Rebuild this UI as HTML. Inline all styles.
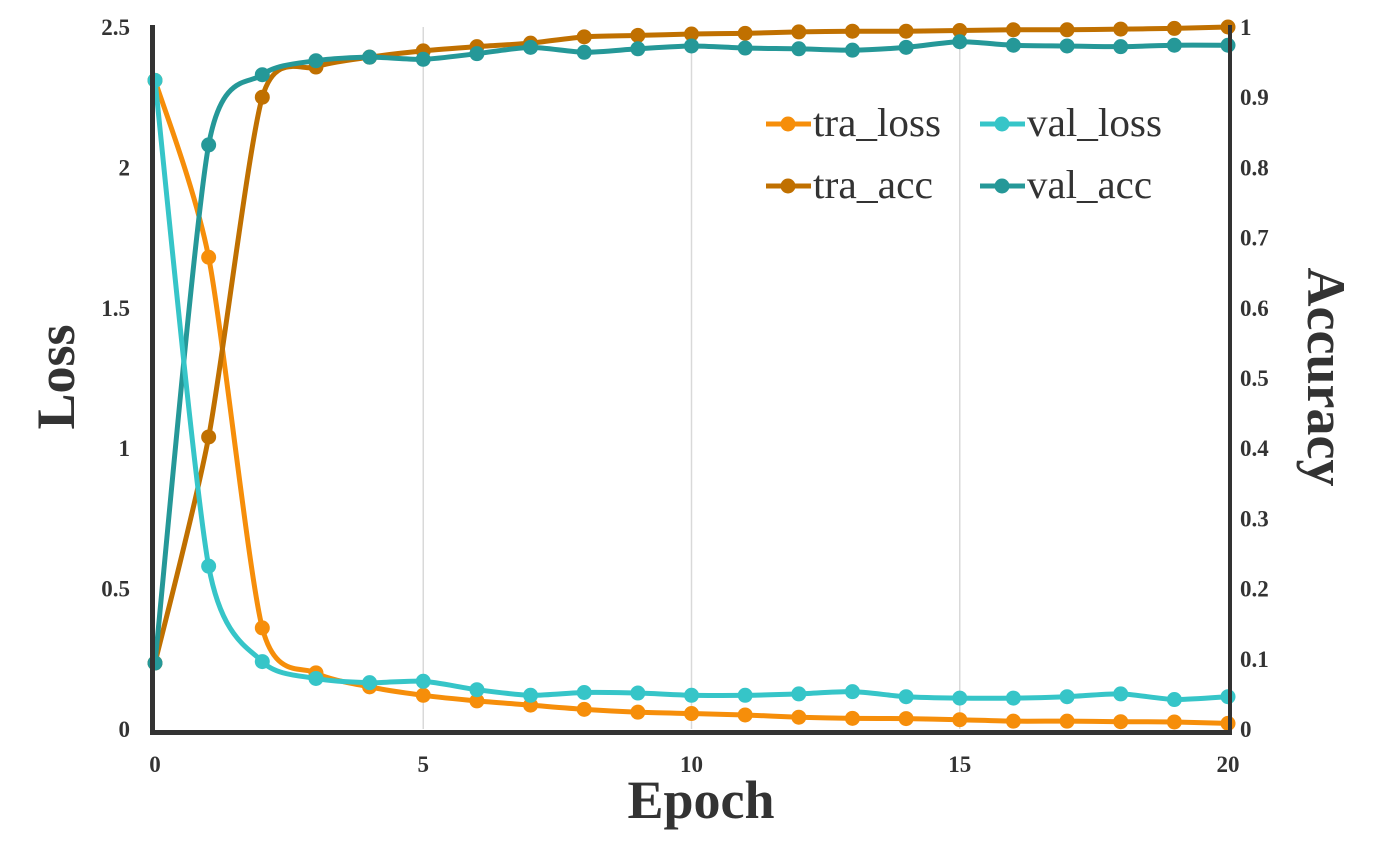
<!DOCTYPE html>
<html><head><meta charset="utf-8"><style>
body{margin:0;background:#fff;}
svg{display:block;font-family:"Liberation Serif",serif;font-weight:bold;}
</style></head><body>
<svg id="chart" width="1392" height="867">
<g id="grid"></g><g id="series"></g><g id="axes"></g>
</svg>
<script>
const epochs=[0,1,2,3,4,5,6,7,8,9,10,11,12,13,14,15,16,17,18,19,20];
const traLoss=[2.31,1.68,0.36,0.20,0.15,0.12,0.10,0.085,0.07,0.06,0.055,0.05,0.042,0.038,0.037,0.033,0.028,0.028,0.026,0.025,0.02];
const valLoss=[2.31,0.58,0.24,0.18,0.165,0.17,0.14,0.12,0.13,0.128,0.12,0.12,0.125,0.133,0.115,0.11,0.11,0.115,0.125,0.105,0.115];
const traAcc=[0.094,0.416,0.900,0.943,0.957,0.966,0.972,0.977,0.986,0.988,0.990,0.991,0.993,0.994,0.994,0.995,0.996,0.996,0.997,0.998,1.0];
const valAcc=[0.094,0.832,0.932,0.952,0.957,0.954,0.962,0.971,0.964,0.969,0.973,0.970,0.969,0.967,0.971,0.979,0.974,0.973,0.972,0.974,0.974];
const lossTicks=["0","0.5","1","1.5","2","2.5"];
const accTicks=["0","0.1","0.2","0.3","0.4","0.5","0.6","0.7","0.8","0.9","1"];
const xTicks=[0,5,10,15,20];
const X0=155,X1=1228,Y0=729,Y1=27;
const x=v=>X0+(X1-X0)*v/20;
const yL=v=>Y0-(Y0-Y1)*v/2.5;
const yA=v=>Y0-(Y0-Y1)*v;
const NS="http://www.w3.org/2000/svg";
function mk(t,a,p,txt){const e=document.createElementNS(NS,t);for(const k in a)e.setAttribute(k,a[k]);if(txt!==undefined)e.textContent=txt;p.appendChild(e);return e;}
const grid=document.getElementById('grid'),ser=document.getElementById('series'),ax=document.getElementById('axes');
xTicks.forEach(t=>{if(t>0&&t<20){const l=mk('line',{x1:x(t),x2:x(t),y1:Y1,y2:Y0,stroke:'#d9d9d9','stroke-width':1.5},grid);

}});
function path(pts){const k=8;let d=`M${pts[0][0]},${pts[0][1]}`;for(let i=0;i<pts.length-1;i++){const p0=pts[Math.max(i-1,0)],p1=pts[i],p2=pts[i+1],p3=pts[Math.min(i+2,pts.length-1)];
const c1=[p1[0]+(p2[0]-p0[0])/k,p1[1]+(p2[1]-p0[1])/k],c2=[p2[0]-(p3[0]-p1[0])/k,p2[1]-(p3[1]-p1[1])/k];d+=`C${c1[0]},${c1[1]} ${c2[0]},${c2[1]} ${p2[0]},${p2[1]}`;}return d;}
function series(vals,fy,color,name){const g=mk('g',{},ser);


const pts=vals.map((v,i)=>[x(epochs[i]),fy(v)]);
const p=mk('path',{d:path(pts),fill:'none',stroke:color,'stroke-width':5},g);


pts.forEach(q=>{const c=mk('circle',{cx:q[0],cy:q[1],r:7.5,fill:color},g);

});}
series(traLoss,yL,'#f68e0a','tra-loss');
series(traAcc,yA,'#c07000','tra-acc');
series(valAcc,yA,'#259898','val-acc');
series(valLoss,yL,'#36c5c8','val-loss');
let e=mk('rect',{x:150,y:25,width:5,height:710,fill:'#333'},ax);
e=mk('rect',{x:150,y:730,width:1082,height:5,fill:'#333'},ax);
e=mk('rect',{x:1228,y:25,width:4,height:710,fill:'#333'},ax);
lossTicks.forEach(t=>{const l=mk('text',{x:130,y:yL(+t)+8,'text-anchor':'end','font-size':23,fill:'#333'},ax,t);

});
accTicks.forEach(t=>{const l=mk('text',{x:1240,y:yA(+t)+8,'text-anchor':'start','font-size':23,fill:'#333'},ax,t);

});
xTicks.forEach(t=>{const l=mk('text',{x:x(t),y:772,'text-anchor':'middle','font-size':23,fill:'#333'},ax,String(t));

});
e=mk('text',{x:701,y:818,'text-anchor':'middle','font-size':54,fill:'#333'},ax,'Epoch');
e=mk('text',{x:0,y:0,'text-anchor':'middle','font-size':54,fill:'#333',transform:'translate(74,377) rotate(-90)'},ax,'Loss');
e=mk('text',{x:0,y:0,'text-anchor':'middle','font-size':54,fill:'#333',transform:'translate(1308,377) rotate(90)'},ax,'Accuracy');
const leg=[['tra_loss','#f68e0a',766,124,128],['val_loss','#36c5c8',980,124,135],['tra_acc','#c07000',766,186,120],['val_acc','#259898',980,186,125]];
leg.forEach(L=>{const g=mk('g',{},ax);


mk('line',{x1:L[2],x2:L[2]+45,y1:L[3],y2:L[3],stroke:L[1],'stroke-width':5},g);
mk('circle',{cx:L[2]+22,cy:L[3],r:7.5,fill:L[1]},g);
mk('text',{x:L[2]+47,y:L[3]+12,'font-size':40,'font-weight':'normal',fill:'#333',textLength:L[4],lengthAdjust:'spacingAndGlyphs'},g,L[0]);});
</script>
</body></html>
